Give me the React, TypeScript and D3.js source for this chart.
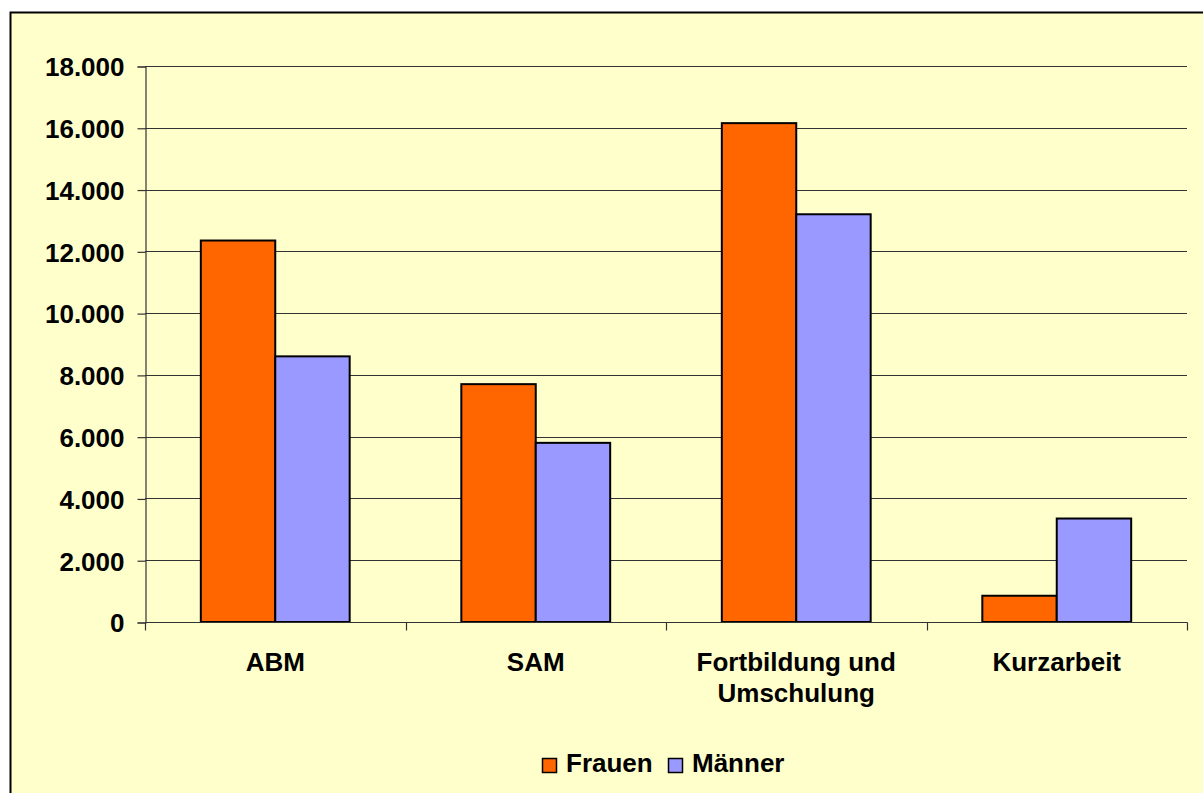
import React, { useEffect, useRef } from 'react';
import * as d3 from 'd3';

// categories and series values
const categories = ['ABM', 'SAM', 'Fortbildung und|Umschulung', 'Kurzarbeit'];
const seriesNames = ['Frauen', 'Männer'];
const frauen = [12350, 7700, 16150, 850];
const maenner = [8600, 5800, 13200, 3350];
const yTicks = [0, 2000, 4000, 6000, 8000, 10000, 12000, 14000, 16000, 18000];
const colors = ['#FF6600', '#9999FF'];

const W = 1203;
const H = 793;

const App = () => {
  const ref = useRef<SVGSVGElement>(null);

  useEffect(() => {
    const svg = d3.select(ref.current);
    svg.selectAll('*').remove();

    const font = '"Liberation Sans", Arial, sans-serif';
    const left = 145, right = 1187, top = 66, bottom = 622;

    // chart background and border
    svg.append('rect')
      .attr('x', 10.5).attr('y', 12.5)
      .attr('width', W + 20).attr('height', H + 20)
      .attr('fill', '#FFFFCC')
      .attr('stroke', '#000')
      .attr('stroke-width', 2);

    const x0 = d3.scaleBand().domain(categories).range([left, right]).paddingInner(0).paddingOuter(0);
    // gap width 150% -> bars take 2/(2+1.5) of the band
    const barW = x0.bandwidth() / 3.5;
    const y = d3.scaleLinear().domain([0, 18000]).range([bottom, top]);

    // gridlines
    svg.append('g')
      .selectAll('line')
      .data(yTicks.slice(1))
      .enter()
      .append('line')
      .attr('x1', left).attr('x2', right)
      .attr('y1', d => Math.round(y(d)) + 0.5)
      .attr('y2', d => Math.round(y(d)) + 0.5)
      .attr('stroke', '#333')
      .attr('stroke-width', 1.2);

    // y axis
    const yAxis = d3.axisLeft(y)
      .tickValues(yTicks)
      .tickSize(8)
      .tickFormat(d => d3.format(',')(d as number).replace(/,/g, '.'));
    const gy = svg.append('g').attr('transform', `translate(${left + 0.5},0.5)`).call(yAxis);
    gy.select('.domain').attr('stroke', '#333').attr('stroke-width', 1.2);
    gy.selectAll('.tick line').attr('stroke', '#333').attr('stroke-width', 1.2);
    gy.selectAll('.tick text')
      .attr('x', -21)
      .attr('dy', '0.36em')
      .attr('fill', '#000')
      .style('font-family', font)
      .style('font-size', '26px')
      .style('font-weight', 'bold');

    // bars
    const data = [frauen, maenner];
    data.forEach((vals, s) => {
      svg.append('g')
        .selectAll('rect')
        .data(vals)
        .enter()
        .append('rect')
        .attr('x', (d, i) => (x0(categories[i]) as number) + barW * 0.75 + s * barW)
        .attr('y', d => y(d))
        .attr('width', barW)
        .attr('height', d => bottom - y(d))
        .attr('fill', colors[s])
        .attr('stroke', '#000')
        .attr('stroke-width', 2);
    });

    // x axis line and ticks
    const gx = svg.append('g').attr('transform', `translate(0.5,${bottom + 0.5})`);
    gx.append('line').attr('x1', left).attr('x2', right).attr('stroke', '#333').attr('stroke-width', 1.2);
    gx.selectAll('.xt')
      .data([...categories.map(c => x0(c) as number), right])
      .enter()
      .append('line')
      .attr('x1', d => Math.round(d)).attr('x2', d => Math.round(d))
      .attr('y1', 0).attr('y2', 8)
      .attr('stroke', '#333').attr('stroke-width', 1.2);

    // category labels
    categories.forEach(c => {
      const t = svg.append('text')
        .attr('x', (x0(c) as number) + x0.bandwidth() / 2)
        .attr('y', 671)
        .attr('text-anchor', 'middle')
        .style('font-family', font)
        .style('font-size', '26px')
        .style('font-weight', 'bold');
      c.split('|').forEach((line, i) => {
        t.append('tspan')
          .attr('x', (x0(c) as number) + x0.bandwidth() / 2)
          .attr('dy', i === 0 ? 0 : 31)
          .text(line);
      });
    });

    // legend
    const legendX = [542, 668];
    seriesNames.forEach((n, i) => {
      svg.append('rect')
        .attr('x', legendX[i] + 0.5).attr('y', 758.5)
        .attr('width', 14).attr('height', 14)
        .attr('fill', colors[i])
        .attr('stroke', '#000')
        .attr('stroke-width', 1.5);
      svg.append('text')
        .attr('x', legendX[i] + 24)
        .attr('y', 772)
        .style('font-family', font)
        .style('font-size', '26px')
        .style('font-weight', 'bold')
        .text(n);
    });
  }, []);

  return (
    <svg
      ref={ref}
      width={W}
      height={H}
      style={{ position: 'fixed', left: 0, top: 0, display: 'block', background: '#fff' }}
    />
  );
};

export default App;
